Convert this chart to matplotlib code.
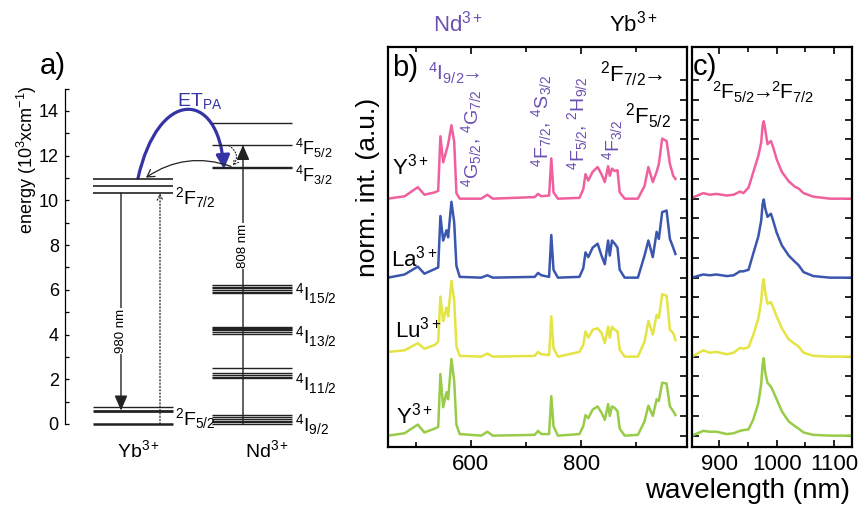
import matplotlib
matplotlib.use('Agg')
import matplotlib.pyplot as plt
from matplotlib.patches import FancyArrowPatch
from matplotlib.path import Path
from matplotlib.ticker import MultipleLocator, FixedLocator

plt.rcParams['font.family'] = ['Liberation Sans', 'DejaVu Sans']
plt.rcParams['mathtext.fontset'] = 'custom'
plt.rcParams['mathtext.rm'] = 'Liberation Sans'
plt.rcParams['mathtext.it'] = 'Liberation Sans:italic'
plt.rcParams['mathtext.bf'] = 'Liberation Sans:bold'

# ---- panel a: energy levels (10^3 cm^-1) ----
YB_UPPER = [10.94, 10.64, 10.32]
YB_LOWER = [0.77, 0.60, 0.0]
ND_UPPER = [13.47, 12.48, 11.50, 11.43]
ND_I15 = [6.20, 6.13, 6.06, 5.99, 5.92, 5.86]
ND_I13 = [4.35, 4.30, 4.25, 4.20, 4.10, 4.02]
ND_I11 = [2.49, 2.27, 2.20, 2.12, 2.04]
ND_I9 = [0.40, 0.30, 0.22, 0.15, 0.07, 0.0]
ENERGY_TICKS = [0, 2, 4, 6, 8, 10, 12, 14]

# ---- panel b: Nd3+ excitation spectra, normalised ----
WL_B = [450, 480, 504, 516, 535, 541, 545, 550, 556, 559,
        565, 570, 574, 580, 619, 630, 640, 716, 722, 728,
        742, 746, 750, 758, 797, 804, 808, 813, 821, 830,
        837, 843, 849, 852, 856, 861, 866, 870, 879, 903,
        915, 922, 930, 937, 941, 947, 955, 961, 967, 971]
Y_PINK_B = [0, 0.03, 0.145, 0.05, 0.08, 0.10, 0.79, 0.46, 0.61, 0.69,
            0.93, 0.72, 0.07, 0.0, 0.0, 0.05, 0.0, 0.02, 0.06, 0.03,
            0.04, 0.51, 0.08, 0.0, 0.01, 0.12, 0.31, 0.23, 0.34, 0.40,
            0.31, 0.21, 0.41, 0.29, 0.38, 0.35, 0.36, 0.08, 0.0, 0.0,
            0.16, 0.40, 0.21, 0.34, 0.44, 0.76, 0.73, 0.44, 0.29, 0.25]
LA_B = [0, 0.04, 0.14, 0.05, 0.11, 0.13, 0.78, 0.47, 0.60, 0.51,
        0.96, 0.70, 0.15, 0.01, 0.0, 0.03, 0.0, 0.01, 0.06, 0.03,
        0.01, 0.54, 0.10, 0.0, 0.01, 0.12, 0.32, 0.26, 0.38, 0.43,
        0.28, 0.17, 0.47, 0.28, 0.47, 0.43, 0.38, 0.10, 0.0, 0.0,
        0.28, 0.47, 0.26, 0.58, 0.49, 0.83, 0.85, 0.49, 0.38, 0.30]
LU_B = [0.06, 0.08, 0.17, 0.10, 0.15, 0.19, 0.76, 0.45, 0.62, 0.51,
        0.96, 0.71, 0.13, 0.01, 0.0, 0.04, 0.0, 0.01, 0.06, 0.03,
        0.02, 0.51, 0.11, 0.0, 0.06, 0.15, 0.32, 0.24, 0.34, 0.36,
        0.30, 0.17, 0.38, 0.24, 0.38, 0.34, 0.32, 0.09, 0.0, 0.0,
        0.19, 0.45, 0.28, 0.53, 0.49, 0.79, 0.77, 0.34, 0.30, 0.21]
Y_GREEN_B = [0, 0.03, 0.14, 0.04, 0.09, 0.11, 0.78, 0.36, 0.55, 0.46,
             0.97, 0.69, 0.14, 0.02, 0.0, 0.05, 0.0, 0.01, 0.06, 0.02,
             0.02, 0.50, 0.12, 0.0, 0.02, 0.12, 0.26, 0.22, 0.33, 0.37,
             0.29, 0.20, 0.40, 0.25, 0.37, 0.35, 0.31, 0.09, 0.0, 0.01,
             0.18, 0.38, 0.25, 0.46, 0.44, 0.67, 0.66, 0.37, 0.31, 0.26]

# ---- panel c: Yb3+ emission, normalised ----
WL_C = [852, 872, 883, 895, 913, 925, 936, 942, 951, 959,
        968, 973, 975.5, 977.5, 980, 984, 990, 994, 1000, 1009,
        1021, 1032, 1038, 1047, 1064, 1093, 1130]
Y_PINK_C = [0.01, 0.07, 0.05, 0.06, 0.04, 0.05, 0.09, 0.07, 0.14, 0.33,
            0.54, 0.71, 0.92, 0.98, 0.88, 0.69, 0.73, 0.65, 0.50, 0.34,
            0.22, 0.15, 0.13, 0.07, 0.025, 0.0, 0.0]
LA_C = [0.0, 0.04, 0.03, 0.04, 0.02, 0.03, 0.08, 0.08, 0.10, 0.30,
        0.52, 0.72, 0.93, 0.99, 0.88, 0.77, 0.81, 0.72, 0.57, 0.41,
        0.28, 0.20, 0.16, 0.07, 0.02, 0.0, 0.0]
LU_C = [0.0, 0.08, 0.05, 0.06, 0.03, 0.05, 0.11, 0.10, 0.12, 0.27,
        0.48, 0.70, 0.92, 0.98, 0.82, 0.67, 0.69, 0.62, 0.51, 0.36,
        0.22, 0.16, 0.13, 0.05, 0.01, 0.0, 0.0]
Y_GREEN_C = [0.0, 0.06, 0.05, 0.05, 0.02, 0.03, 0.06, 0.07, 0.08, 0.20,
             0.41, 0.65, 0.90, 0.98, 0.80, 0.67, 0.62, 0.56, 0.46, 0.31,
             0.18, 0.12, 0.09, 0.04, 0.01, 0.0, 0.0]

HOSTS = ['Y$^{3+}$', 'La$^{3+}$', 'Lu$^{3+}$', 'Y$^{3+}$']
OFFSETS = [3, 2, 1, 0]
COLORS = ['#f0609e', '#3a56ae', '#e4e444', '#98cc48']
SPEC_B = [Y_PINK_B, LA_B, LU_B, Y_GREEN_B]
SPEC_C = [Y_PINK_C, LA_C, LU_C, Y_GREEN_C]

PURPLE = '#6a50b0'
ET_BLUE = '#3434a4'
LINE = '#222222'
ARROW = '$\\!\\!\\rightarrow\\!\\!$'

fig = plt.figure(figsize=(8.6, 5.13), dpi=100)

# ================= panel a =================
ax_a = fig.add_axes([0, 0, 0.42, 1])
ax_a.patch.set_visible(False)
ax_a.set_xlim(0, 361.2)          # x in pixels of the drawing
ax_a.set_ylim(-3.98, 18.96)
for s in ['top', 'right', 'bottom']:
    ax_a.spines[s].set_visible(False)
ax_a.spines['left'].set_position(('data', 65))
ax_a.spines['left'].set_bounds(0, 15)
ax_a.spines['left'].set_linewidth(0.9)
ax_a.set_xticks([])
ax_a.yaxis.set_major_locator(FixedLocator(ENERGY_TICKS))
ax_a.yaxis.set_minor_locator(FixedLocator([1, 3, 5, 7, 9, 11, 13, 15]))
ax_a.tick_params(axis='y', which='both', direction='in', length=3,
                 width=0.9, labelsize=13, pad=4.5)
ax_a.text(27, 11.8, 'energy (10$^3$xcm$^{-1}$)', rotation=90,
          ha='center', va='center', fontsize=13)
ax_a.text(40, 16.0, 'a)', fontsize=21, va='center')

YB_X = (93, 173)
ND_X = (212, 292)
ax_a.hlines(YB_UPPER, *YB_X, colors=LINE, lw=1.2)
ax_a.hlines(YB_LOWER, *YB_X, colors=LINE, lw=[1.0, 2.0, 1.8])
ax_a.hlines(ND_UPPER, *ND_X, colors=LINE, lw=1.0)
for grp in [ND_I15, ND_I13, ND_I11, ND_I9]:
    ax_a.hlines(grp, *ND_X, colors=LINE, lw=1.0)

solid_head = '-|>,head_length=0.7,head_width=0.3'
# 980 nm emission
ax_a.annotate('', xy=(121, YB_LOWER[1]), xytext=(121, YB_UPPER[2]),
              arrowprops=dict(arrowstyle=solid_head, color=LINE, lw=1.0,
                              shrinkA=0, shrinkB=0, mutation_scale=13))
ax_a.text(121, 4.15, '980 nm', rotation=90, ha='center', va='center',
          fontsize=9.5, bbox=dict(fc='white', ec='none', pad=0.5))
# dotted absorption
ax_a.annotate('', xy=(160, YB_UPPER[2]), xytext=(160, 0),
              arrowprops=dict(arrowstyle='->,head_length=0.4,head_width=0.2',
                              color=LINE, lw=0.9, ls=':', shrinkA=0, shrinkB=0,
                              mutation_scale=10))
# 808 nm pump
ax_a.annotate('', xy=(243, ND_UPPER[1]), xytext=(243, 0),
              arrowprops=dict(arrowstyle=solid_head, color=LINE, lw=1.0,
                              shrinkA=0, shrinkB=0, mutation_scale=13))
ax_a.text(243, 7.95, '808 nm', rotation=90, ha='center', va='center',
          fontsize=9.5, bbox=dict(fc='white', ec='none', pad=0.5))

# ET_PA blue arrow
et_path = Path([(138, 10.99), (158, 15.0), (218, 15.0), (224, 11.40)],
               [Path.MOVETO, Path.CURVE4, Path.CURVE4, Path.CURVE4])
ax_a.add_patch(FancyArrowPatch(path=et_path,
                               arrowstyle='-|>,head_length=0.8,head_width=0.4',
                               color=ET_BLUE, lw=2.3, mutation_scale=10))
ax_a.text(177, 14.2, 'ET$_{\\mathrm{PA}}$', color=ET_BLUE, fontsize=14,
          va='baseline')
# back transfer Nd -> Yb
ax_a.add_patch(FancyArrowPatch((231, 11.52), (146, 11.02),
                               connectionstyle='arc3,rad=0.25',
                               arrowstyle='->,head_length=0.5,head_width=0.3',
                               color=LINE, lw=0.9, mutation_scale=10,
                               shrinkA=0, shrinkB=0))
# relaxation 4F5/2 -> 4F3/2
ax_a.add_patch(FancyArrowPatch((229, 12.45), (233, 11.55),
                               connectionstyle='arc3,rad=-0.5',
                               arrowstyle='->,head_length=0.35,head_width=0.2',
                               color=LINE, lw=0.8, ls=':', mutation_scale=10,
                               shrinkA=0, shrinkB=0))

lev_fs = 14
ax_a.text(175, 9.85, '$^2$F$_{7/2}$', fontsize=lev_fs, va='baseline')
ax_a.text(175, -0.05, '$^2$F$_{5/2}$', fontsize=lev_fs, va='baseline')
ax_a.text(295, 12.05, '$^4$F$_{5/2}$', fontsize=13, va='baseline')
ax_a.text(295, 10.80, '$^4$F$_{3/2}$', fontsize=13, va='baseline')
ax_a.text(295, 5.55, '$^4$I$_{15/2}$', fontsize=lev_fs, va='baseline')
ax_a.text(295, 3.61, '$^4$I$_{13/2}$', fontsize=lev_fs, va='baseline')
ax_a.text(295, 1.52, '$^4$I$_{11/2}$', fontsize=lev_fs, va='baseline')
ax_a.text(295, -0.34, '$^4$I$_{9/2}$', fontsize=lev_fs, va='baseline')
ax_a.text(139, -1.46, 'Yb$^{3+}$', fontsize=lev_fs, ha='center', va='baseline')
ax_a.text(267, -1.46, 'Nd$^{3+}$', fontsize=lev_fs, ha='center', va='baseline')

# ================= panels b, c =================
bot = (513 - 446.7) / 513
hgt = (446.7 - 47) / 513
ax_b = fig.add_axes([388 / 860, bot, (687 - 388) / 860, hgt])
ax_c = fig.add_axes([691.7 / 860, bot, (852.3 - 691.7) / 860, hgt])

YTICKS = [i * 0.25 for i in range(19)]
for ax in (ax_b, ax_c):
    ax.set_ylim(-0.14, 4.92)
    for s in ax.spines.values():
        s.set_linewidth(1.6)
    ax.yaxis.set_major_locator(FixedLocator(YTICKS))
    ax.tick_params(which='both', direction='in', top=True, bottom=True,
                   width=1.2, labelsize=16, pad=5)
    ax.tick_params(which='major', length=5)
    ax.tick_params(which='minor', length=3.5)

ax_b.set_xlim(450, 992)
ax_b.xaxis.set_major_locator(MultipleLocator(200))
ax_b.xaxis.set_minor_locator(MultipleLocator(100))
ax_b.tick_params(axis='y', left=False, right=True, labelleft=False)

ax_c.set_xlim(851.8, 1132)
ax_c.xaxis.set_major_locator(MultipleLocator(100))
ax_c.xaxis.set_minor_locator(MultipleLocator(50))
ax_c.tick_params(axis='y', left=True, right=True, labelleft=False)

for vals, off, col in zip(SPEC_B, OFFSETS, COLORS):
    ax_b.plot(WL_B, [v + off for v in vals], color=col, lw=1.8,
              solid_joinstyle='round')
for vals, off, col in zip(SPEC_C, OFFSETS, COLORS):
    ax_c.plot(WL_C, [v + off for v in vals], color=col, lw=1.8,
              solid_joinstyle='round')

host_pos = [(457, 3.30), (455, 2.14), (462, 1.24), (464.5, 0.156)]
for lab, (x, y) in zip(HOSTS, host_pos):
    ax_b.text(x, y, lab, fontsize=16, va='baseline')

ax_b.text(457, 4.65, 'b)', fontsize=21, va='center')
ax_b.text(522.5, 4.50, '$^4$I$_{9/2}$' + ARROW, fontsize=15, color=PURPLE,
          va='baseline')
ax_b.text(834, 4.48, '$^2$F$_{7/2}$' + ARROW, fontsize=16, va='baseline')
ax_b.text(880, 3.95, '$^2$F$_{5/2}$', fontsize=16, va='baseline')

rot_labels = [('$^4$G$_{5/2}$, $^4$G$_{7/2}$', 613.7, 3.15),
              ('$^4$F$_{7/2}$, $^4$S$_{3/2}$', 740.7, 3.40),
              ('$^4$F$_{5/2}$, $^2$H$_{9/2}$', 805.4, 3.36),
              ('$^4$F$_{3/2}$', 869.5, 3.49)]
for lab, x, y in rot_labels:
    ax_b.text(x, y, lab, rotation=90, rotation_mode='anchor', ha='left',
              va='baseline', fontsize=14, color=PURPLE)

ax_c.text(853, 4.67, 'c)', fontsize=21, va='center')
ax_c.text(886.7, 4.25, '$^2$F$_{5/2}$' + ARROW + '$^2$F$_{7/2}$',
          fontsize=15, va='baseline')

fig.text(458 / 860, 0.938, 'Nd$^{3+}$', fontsize=16, color=PURPLE,
         ha='center', va='baseline')
fig.text(633 / 860, 0.938, 'Yb$^{3+}$', fontsize=16, ha='center',
         va='baseline')
fig.text(0.428, 0.635, 'norm. int. (a.u.)', rotation=90, fontsize=19,
         ha='center', va='center')
fig.text(0.869, 0.03, 'wavelength (nm)', fontsize=20, ha='center',
         va='baseline')

fig.savefig('out.png', dpi=100)
